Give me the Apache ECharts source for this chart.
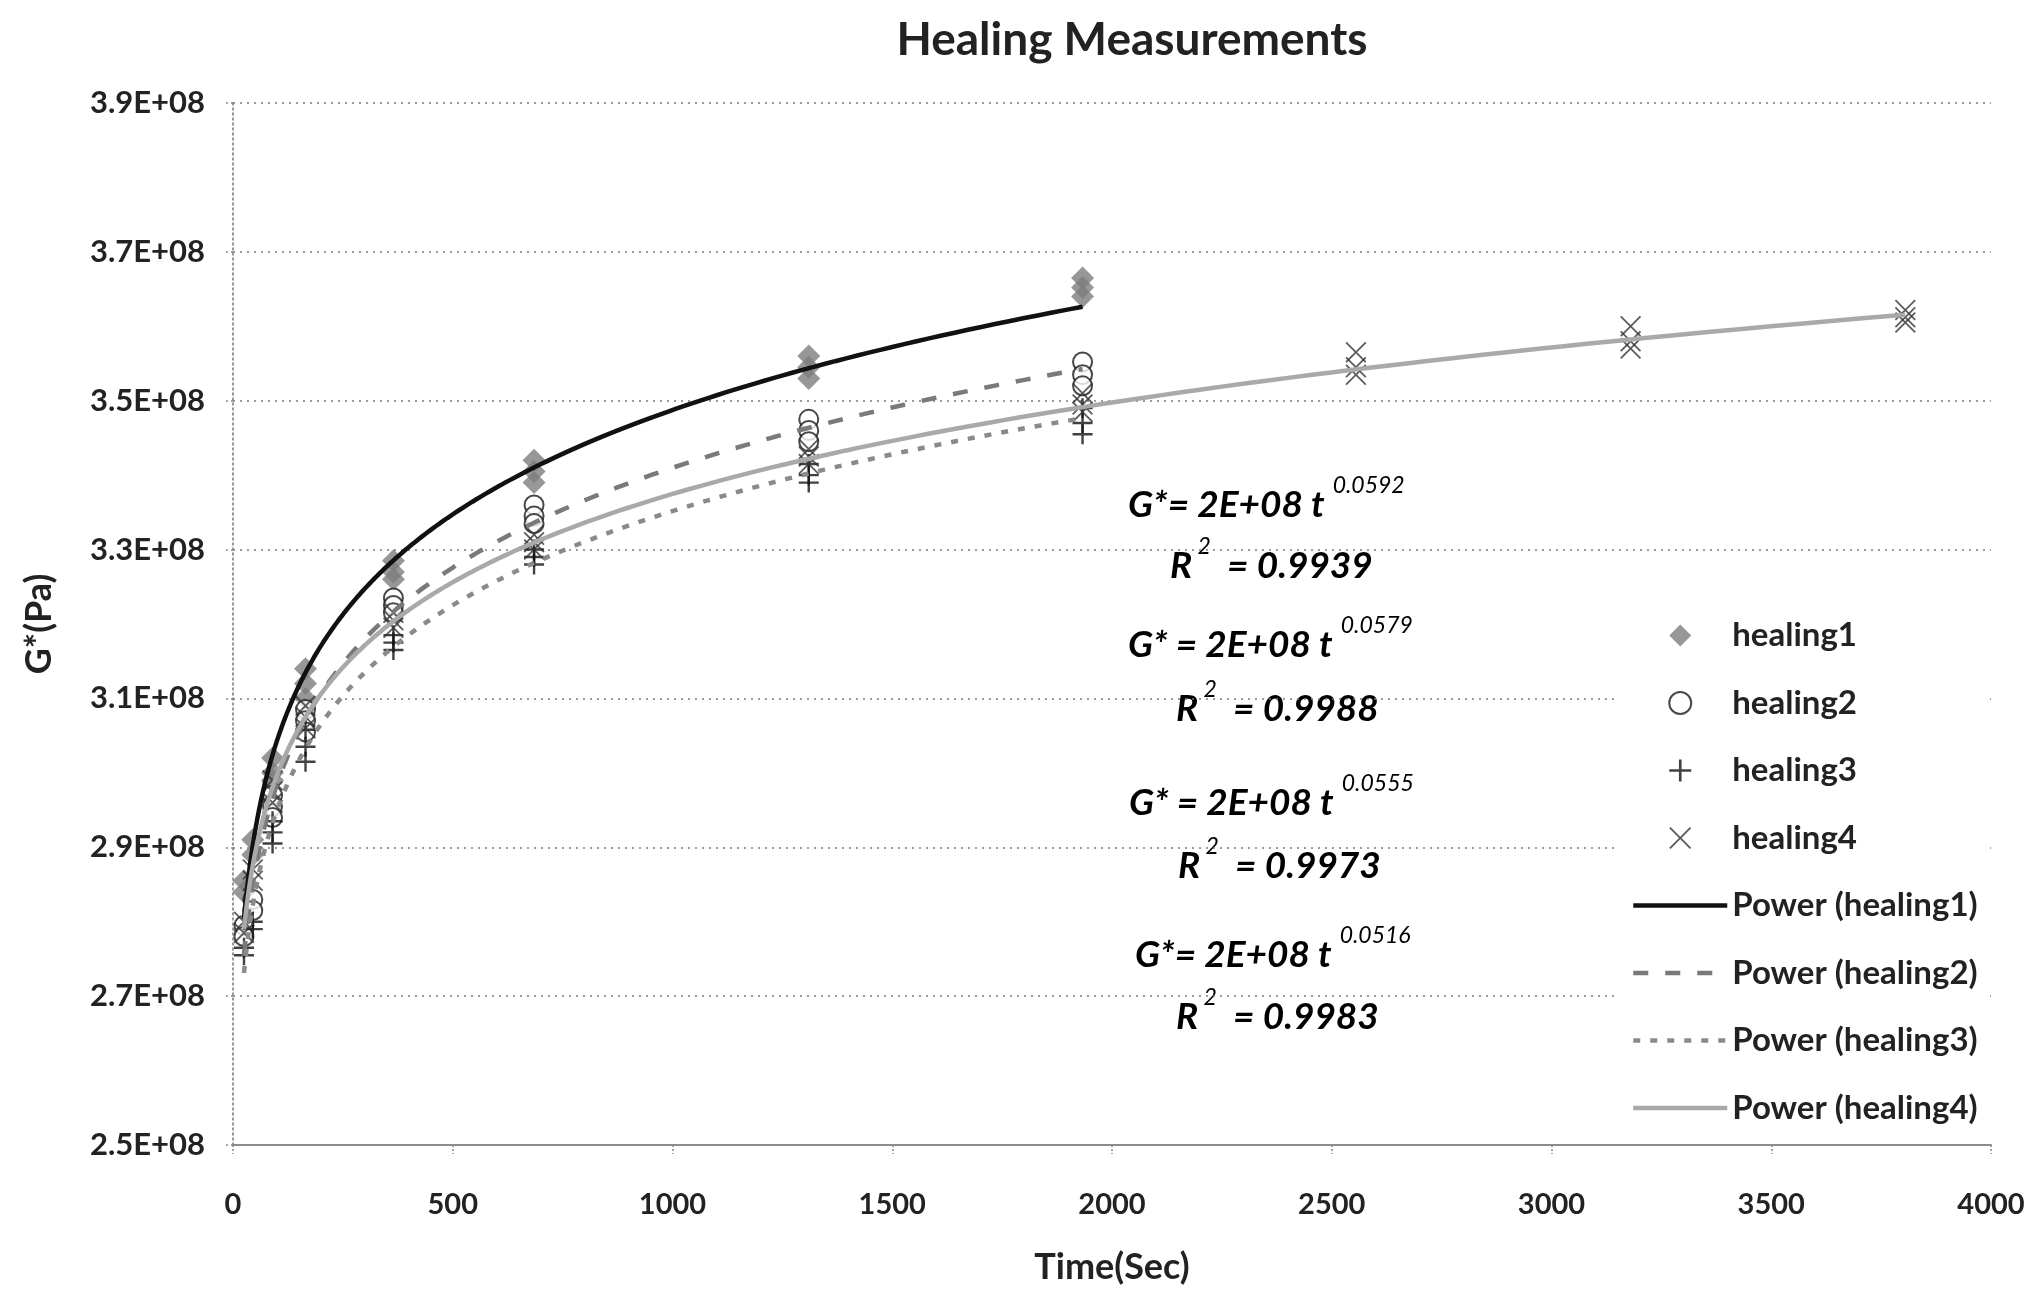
<!DOCTYPE html>
<html>
<head>
<meta charset="utf-8">
<title>Healing Measurements</title>
<script src="https://cdn.jsdelivr.net/npm/echarts@6/dist/echarts.min.js"></script>
<style>
  html, body { margin: 0; padding: 0; background: #ffffff; }
  #chart { width: 2038px; height: 1297px; }
</style>
</head>
<body>
<div id="chart"></div>
<script>
// Measurement times (s); healing4 was followed for longer
const timesShort = [25, 45, 90, 165, 365, 685, 1310, 1933];
const timesLong = [25, 45, 90, 165, 365, 685, 1310, 1933, 2555, 3180, 3805];

// G* (Pa) replicate readings at each measurement time
const healing1 = [
  [2.855e8, 2.84e8], [2.91e8, 2.89e8], [3.02e8, 3.00e8, 2.99e8], [3.14e8, 3.12e8, 3.10e8],
  [3.285e8, 3.27e8, 3.26e8], [3.42e8, 3.405e8, 3.39e8], [3.56e8, 3.545e8, 3.53e8], [3.665e8, 3.652e8, 3.64e8]
];
const healing2 = [
  [2.795e8, 2.78e8], [2.83e8, 2.815e8], [2.97e8, 2.955e8, 2.94e8], [3.085e8, 3.07e8, 3.055e8],
  [3.235e8, 3.225e8, 3.215e8], [3.36e8, 3.345e8, 3.335e8], [3.475e8, 3.46e8, 3.445e8], [3.552e8, 3.535e8, 3.52e8]
];
const healing3 = [
  [2.765e8, 2.755e8], [2.80e8, 2.79e8], [2.935e8, 2.92e8, 2.905e8], [3.058e8, 3.035e8, 3.015e8],
  [3.185e8, 3.175e8, 3.165e8], [3.30e8, 3.29e8, 3.28e8], [3.415e8, 3.40e8, 3.39e8], [3.49e8, 3.47e8, 3.455e8]
];
const healing4 = [
  [2.80e8, 2.785e8], [2.87e8, 2.855e8], [2.99e8, 2.975e8, 2.96e8], [3.09e8, 3.075e8, 3.06e8],
  [3.215e8, 3.205e8, 3.195e8], [3.32e8, 3.31e8, 3.30e8], [3.435e8, 3.425e8, 3.415e8], [3.51e8, 3.495e8, 3.485e8],
  [3.565e8, 3.545e8, 3.535e8], [3.60e8, 3.58e8, 3.57e8], [3.622e8, 3.612e8, 3.605e8]
];

// Power trendline exponents and fit quality, as printed next to the curves
const fitExponents = [0.0592, 0.0579, 0.0555, 0.0516];
const rSquared = ['0.9939', '0.9988', '0.9973', '0.9983'];
const equationHeads = ['G*= 2E+08 t', 'G* = 2E+08 t', 'G* = 2E+08 t', 'G*= 2E+08 t'];

const seriesNames = ['healing1', 'healing2', 'healing3', 'healing4'];

// Axis ticks
const yMin = 2.5e8, yMax = 3.9e8, yStep = 0.2e8;
const xMin = 0, xMax = 4000, xStep = 500;

const FONT = 'Lato, "Open Sans", "Noto Sans", sans-serif';

function toPoints(ts, groups) {
  const pts = [];
  ts.forEach((t, i) => groups[i].forEach(v => pts.push([t, v])));
  return pts;
}

// Power trendline y = a * t^b: exponent b as printed, coefficient a by least squares in log space
function powerTrend(ts, groups, b) {
  let s = 0, n = 0;
  ts.forEach((t, i) => groups[i].forEach(v => { s += Math.log(v) - b * Math.log(t); n++; }));
  const a = Math.exp(s / n);
  const t0 = ts[0], t1 = ts[ts.length - 1];
  const N = 240, out = [];
  for (let k = 0; k <= N; k++) {
    const t = t0 * Math.pow(t1 / t0, k / N);
    out.push([t, a * Math.pow(t, b)]);
  }
  return out;
}

const dataSets = [
  [timesShort, healing1], [timesShort, healing2], [timesShort, healing3], [timesLong, healing4]
];

const diamondPath = 'path://M5,0L10,5L5,10L0,5Z';
const plusPath = 'path://M4.4,0H5.6V4.4H10V5.6H5.6V10H4.4V5.6H0V4.4H4.4Z';
const crossPath = 'path://M0,0.6L0.6,0L5,4.4L9.4,0L10,0.6L5.6,5L10,9.4L9.4,10L5,5.6L0.6,10L0,9.4L4.4,5Z';

const markerStyles = [
  { symbol: diamondPath, symbolSize: 23, itemStyle: { color: '#7d7d7d' } },
  { symbol: 'emptyCircle', symbolSize: 19, itemStyle: { color: '#1a1a1a', borderWidth: 1.6 } },
  { symbol: plusPath, symbolSize: 20, itemStyle: { color: '#111111' } },
  { symbol: crossPath, symbolSize: 21, itemStyle: { color: '#333333' } }
];

const trendStyles = [
  { color: '#111111', width: 4.5, type: 'solid' },
  { color: '#7a7a7a', width: 4.5, type: [15, 17] },
  { color: '#8a8a8a', width: 4.5, type: [7, 10] },
  { color: '#a9a9a9', width: 4.5, type: 'solid' }
];

const series = [];
dataSets.forEach(([ts, groups], i) => {
  series.push(Object.assign({
    name: seriesNames[i],
    type: 'scatter',
    z: 3,
    data: toPoints(ts, groups)
  }, markerStyles[i]));
});
dataSets.forEach(([ts, groups], i) => {
  series.push({
    name: 'Power (' + seriesNames[i] + ')',
    type: 'line',
    z: 4,
    showSymbol: false,
    symbol: 'none',
    silent: true,
    lineStyle: trendStyles[i],
    itemStyle: { color: 'rgba(0,0,0,0)', borderWidth: 0 },
    data: powerTrend(ts, groups, fitExponents[i])
  });
});

// Equation annotations
const eqLayout = [
  { x: 1128, y: 499, rx: 1170, ry: 560 },
  { x: 1128, y: 639, rx: 1176, ry: 703 },
  { x: 1129, y: 797, rx: 1178, ry: 860 },
  { x: 1135, y: 949, rx: 1176, ry: 1011 }
];
const eqRich = {
  m: { fontFamily: FONT, fontSize: 37, fontWeight: 'bold', fontStyle: 'italic', color: '#1a1a1a', lineHeight: 50, verticalAlign: 'bottom' },
  e: { fontFamily: FONT, fontSize: 23, fontStyle: 'italic', color: '#1a1a1a', lineHeight: 23, verticalAlign: 'top' }
};
const graphics = [
  {
    type: 'text', x: 1132, y: 40,
    style: { text: 'Healing Measurements', fontFamily: FONT, fontSize: 46, fontWeight: 'bold', fill: '#222', align: 'center', verticalAlign: 'middle' }
  }
];
eqLayout.forEach((p, i) => {
  graphics.push({
    type: 'text', x: p.x, y: p.y,
    style: { text: '{m|' + equationHeads[i] + ' }{e|' + fitExponents[i].toFixed(4) + '}', rich: eqRich, verticalAlign: 'middle', align: 'left' }
  });
  graphics.push({
    type: 'text', x: p.rx, y: p.ry,
    style: { text: '{m|R}{e| 2}{m|  = ' + rSquared[i] + '}', rich: eqRich, verticalAlign: 'middle', align: 'left' }
  });
});

const chart = echarts.init(document.getElementById('chart'), null, { renderer: 'canvas' });
chart.setOption({
  backgroundColor: '#ffffff',
  animation: false,
  textStyle: { fontFamily: FONT },
  grid: { left: 233, right: 47, top: 103, bottom: 152, containLabel: false },
  xAxis: {
    type: 'value', min: xMin, max: xMax, interval: xStep,
    name: 'Time(Sec)', nameLocation: 'middle', nameGap: 104,
    nameTextStyle: { fontFamily: FONT, fontSize: 36, fontWeight: 'bold', color: '#222' },
    axisLine: { show: true, onZero: false, lineStyle: { color: '#8c8c8c', width: 2 } },
    axisTick: { show: true, length: 9, inside: false, lineStyle: { color: '#888', width: 1.5, type: [2, 2] } },
    axisLabel: {
      fontFamily: FONT, fontSize: 29, fontWeight: 'bold', color: '#222', margin: 45,
      formatter: v => String(v)
    },
    splitLine: { show: false }
  },
  yAxis: {
    type: 'value', min: yMin, max: yMax, interval: yStep,
    name: 'G*(Pa)', nameLocation: 'middle', nameGap: 176, nameRotate: 90,
    nameTextStyle: { fontFamily: FONT, fontSize: 36, fontWeight: 'bold', color: '#222' },
    axisLine: { show: true, onZero: false, lineStyle: { color: '#777', width: 1.5, type: [2, 3] } },
    axisTick: { show: true, length: 8, lineStyle: { color: '#888', width: 1.5, type: [2, 3] } },
    axisLabel: {
      fontFamily: FONT, fontSize: 31, fontWeight: 'bold', color: '#222', margin: 28,
      formatter: v => (v / 1e8).toFixed(1) + 'E+08'
    },
    splitLine: { show: true, lineStyle: { color: '#7a7a7a', width: 1.5, type: [2, 5] } }
  },
  legend: {
    orient: 'vertical',
    left: 1618, top: 604,
    padding: [15, 10, 10, 13],
    backgroundColor: '#ffffff',
    itemWidth: 94, itemHeight: 22, itemGap: 34.5,
    symbolKeepAspect: true,
    lineStyle: { width: 'inherit' },
    textStyle: { fontFamily: FONT, fontSize: 33, fontWeight: 'bold', color: '#222', lineHeight: 33 },
    data: seriesNames.concat(seriesNames.map(n => 'Power (' + n + ')'))
  },
  graphic: graphics,
  series: series
});
</script>
</body>
</html>
